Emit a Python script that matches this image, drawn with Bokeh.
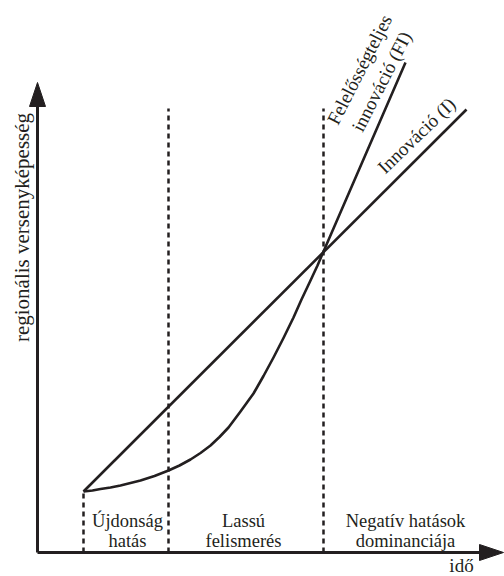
import math
from bokeh.plotting import figure
from bokeh.models import Range1d
from bokeh.embed import file_html
from bokeh.resources import INLINE
from bokeh.core.properties import value

# ---- data (abstract units) ----
fi_t = [46, 55, 63, 73, 83, 93, 103, 117, 131, 142, 153, 163, 173, 182, 191,
        203, 216, 226, 236, 246, 256, 264, 273, 280, 286, 368]
fi_y = [61, 62, 63.5, 65, 67, 69.5, 72, 76.5, 82, 87, 93, 99.5, 107, 115.5, 125,
        141, 159, 176.5, 195, 214.5, 235, 253, 272, 287, 301, 490]
inno_t = [46, 429]
inno_y = [61, 443]
phase_t = [46, 131, 286]
phase_top = [61, 444, 444]
phase_label_t = [90, 206, 368]
phase_line1 = ["Újdonság", "Lassú", "Negatív hatások"]
phase_line2 = ["hatás", "felismerés", "dominanciája"]
x_axis_end = 466
y_axis_end = 470

INK = "#231f20"
FONT = value("Liberation Serif")

p = figure(width=504, height=576, output_backend="svg", toolbar_location=None,
           x_range=Range1d(-37, 467), y_range=Range1d(-24, 552), min_border=0)
p.axis.visible = False
p.grid.visible = False
p.outline_line_color = None
p.background_fill_color = "white"
p.border_fill_color = "white"

# axes with arrow heads
head_len, head_half = 24, 8
p.line([0, x_axis_end - head_len + 2], [0, 0], line_color=INK, line_width=3)
p.line([0, 0], [0, y_axis_end - head_len + 2], line_color=INK, line_width=3)
p.patches(xs=[[x_axis_end - head_len, x_axis_end, x_axis_end - head_len],
              [-head_half, 0, head_half]],
          ys=[[head_half, 0, -head_half],
              [y_axis_end - head_len, y_axis_end, y_axis_end - head_len]],
          fill_color=INK, line_color=INK, line_width=1)

# phase separators
p.segment(x0=phase_t, y0=[0] * len(phase_t), x1=phase_t, y1=phase_top,
          line_color=INK, line_width=2.5, line_dash="5 4")

# curves
p.line(inno_t, inno_y, line_color=INK, line_width=2.6)
p.line(fi_t, fi_y, line_color=INK, line_width=2.6, line_join="round")

# texts
kw = dict(text_font=FONT, text_color=INK, text_align="center")
p.text(x=phase_label_t, y=[32] * 3, text=phase_line1, text_font_size="18.5px",
       text_baseline="alphabetic", **kw)
p.text(x=phase_label_t, y=[12] * 3, text=phase_line2, text_font_size="18.5px",
       text_baseline="alphabetic", **kw)
p.text(x=[424], y=[-13], text=["idő"], text_font_size="19px",
       text_baseline="alphabetic", **kw)
p.text(x=[-16], y=[325], text=["regionális versenyképesség"], angle=math.radians(90),
       text_font_size="21px", text_baseline="middle", **kw)
p.text(x=[379], y=[417], text=["Innováció (I)"], angle=math.radians(44),
       text_font_size="19px", text_baseline="middle", **kw)
p.text(x=[322], y=[483], text=["Felelősségteljes"], angle=math.radians(63),
       text_font_size="19px", text_baseline="middle", **kw)
p.text(x=[344], y=[471], text=["innováció (FI)"], angle=math.radians(63),
       text_font_size="19px", text_baseline="middle", **kw)

open("out.html", "w").write(file_html(p, INLINE))
